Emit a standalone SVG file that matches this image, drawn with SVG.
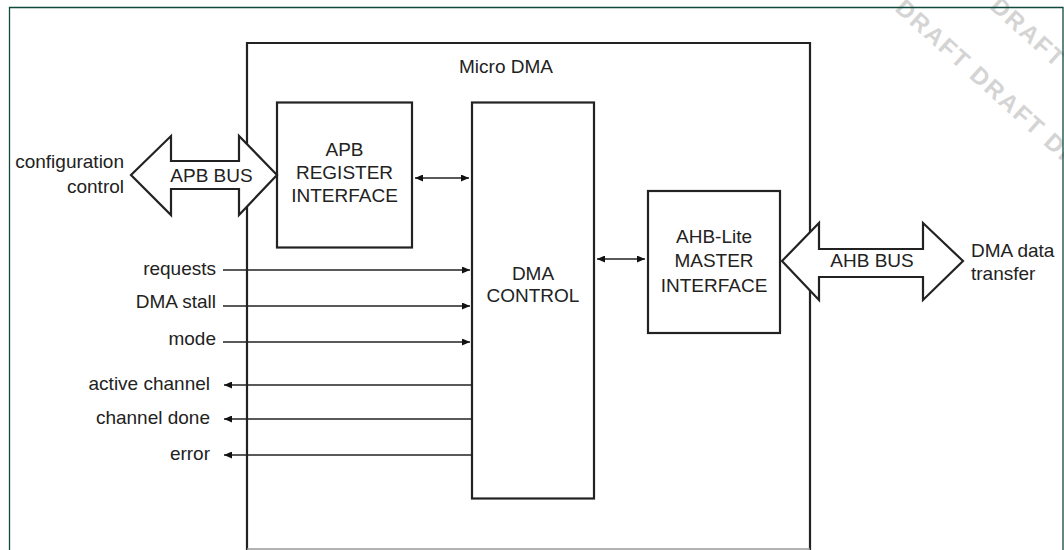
<svg xmlns="http://www.w3.org/2000/svg" width="1064" height="550" viewBox="0 0 1064 550">
<defs>
<style>
.box{fill:none;stroke:#222;stroke-width:2.2}
.bus{fill:#fff;stroke:#222;stroke-width:2.2;stroke-linejoin:miter}
.sig{fill:none;stroke:#222;stroke-width:1.5}
.t{font-family:"Liberation Sans",Arial,sans-serif;font-size:19px;fill:#222}
.m{text-anchor:middle}
.e{text-anchor:end}
.wm{font-family:"Liberation Sans",Arial,sans-serif;font-size:24px;font-weight:bold;fill:#d4d4d4;letter-spacing:2px}
</style>
<marker id="ah" viewBox="0 0 10 10" refX="10" refY="5" markerWidth="8" markerHeight="7" orient="auto-start-reverse" markerUnits="userSpaceOnUse" preserveAspectRatio="none">
<path d="M0,0 L10,5 L0,10 z" fill="#111"/>
</marker>
</defs>
<rect width="1064" height="550" fill="#fff"/>
<g id="watermark">
<text class="wm" transform="translate(894,10) rotate(42)">DRAFT DRAFT DRAFT</text>
<text class="wm" transform="translate(989,8) rotate(42)">DRAFT DRAFT</text>
</g>
<path d="M9.5,560 V7.5 H1063 V560" fill="none" stroke="#0f4a3c" stroke-width="1.3"/>
<g id="micro-dma">
<path class="box" d="M247,560 V43 H810 V560"/>
<line x1="247" y1="549" x2="810" y2="549" stroke="#999" stroke-width="1.5"/>
<text class="t m" x="506" y="73">Micro DMA</text>
</g>
<g id="apb-register">
<rect class="box" x="277" y="102.5" width="135" height="145"/>
<text class="t m" x="344.5" y="156">APB</text>
<text class="t m" x="344.5" y="179">REGISTER</text>
<text class="t m" x="344.5" y="202">INTERFACE</text>
</g>
<g id="dma-control">
<rect class="box" x="472" y="102.5" width="122" height="396"/>
<text class="t m" x="533" y="280">DMA</text>
<text class="t m" x="533" y="302">CONTROL</text>
</g>
<g id="ahb-master">
<rect class="box" x="648" y="191" width="132" height="142"/>
<text class="t m" x="714" y="243">AHB-Lite</text>
<text class="t m" x="714" y="267">MASTER</text>
<text class="t m" x="714" y="292">INTERFACE</text>
</g>
<g id="apb-bus">
<path class="bus" d="M131,175 L171,136 V161 H239 V136 L277,175 L239,215 V189 H171 V215 Z"/>
<text class="t m" x="211.5" y="182">APB BUS</text>
<text class="t e" x="124" y="168">configuration</text>
<text class="t e" x="124" y="193">control</text>
</g>
<g id="ahb-bus">
<path class="bus" d="M782,261 L819,223 V249 H923 V223 L963,261 L923,300 V277 H819 V300 Z"/>
<text class="t m" x="872" y="267">AHB BUS</text>
<text class="t" x="971" y="257">DMA data</text>
<text class="t" x="971" y="280">transfer</text>
</g>
<g id="connectors">
<line class="sig" x1="415" y1="178" x2="469" y2="178" marker-start="url(#ah)" marker-end="url(#ah)"/>
<line class="sig" x1="597" y1="259" x2="645" y2="259" marker-start="url(#ah)" marker-end="url(#ah)"/>
<line class="sig" x1="223" y1="270" x2="470" y2="270" marker-end="url(#ah)"/>
<line class="sig" x1="223" y1="306" x2="470" y2="306" marker-end="url(#ah)"/>
<line class="sig" x1="223" y1="342" x2="470" y2="342" marker-end="url(#ah)"/>
<line class="sig" x1="472" y1="385" x2="224" y2="385" marker-end="url(#ah)"/>
<line class="sig" x1="472" y1="419" x2="224" y2="419" marker-end="url(#ah)"/>
<line class="sig" x1="472" y1="455" x2="224" y2="455" marker-end="url(#ah)"/>
</g>
<g id="signal-labels">
<text class="t e" x="216" y="275">requests</text>
<text class="t e" x="216" y="308">DMA stall</text>
<text class="t e" x="216" y="345">mode</text>
<text class="t e" x="210" y="390">active channel</text>
<text class="t e" x="210" y="424">channel done</text>
<text class="t e" x="210" y="460">error</text>
</g>
</svg>
